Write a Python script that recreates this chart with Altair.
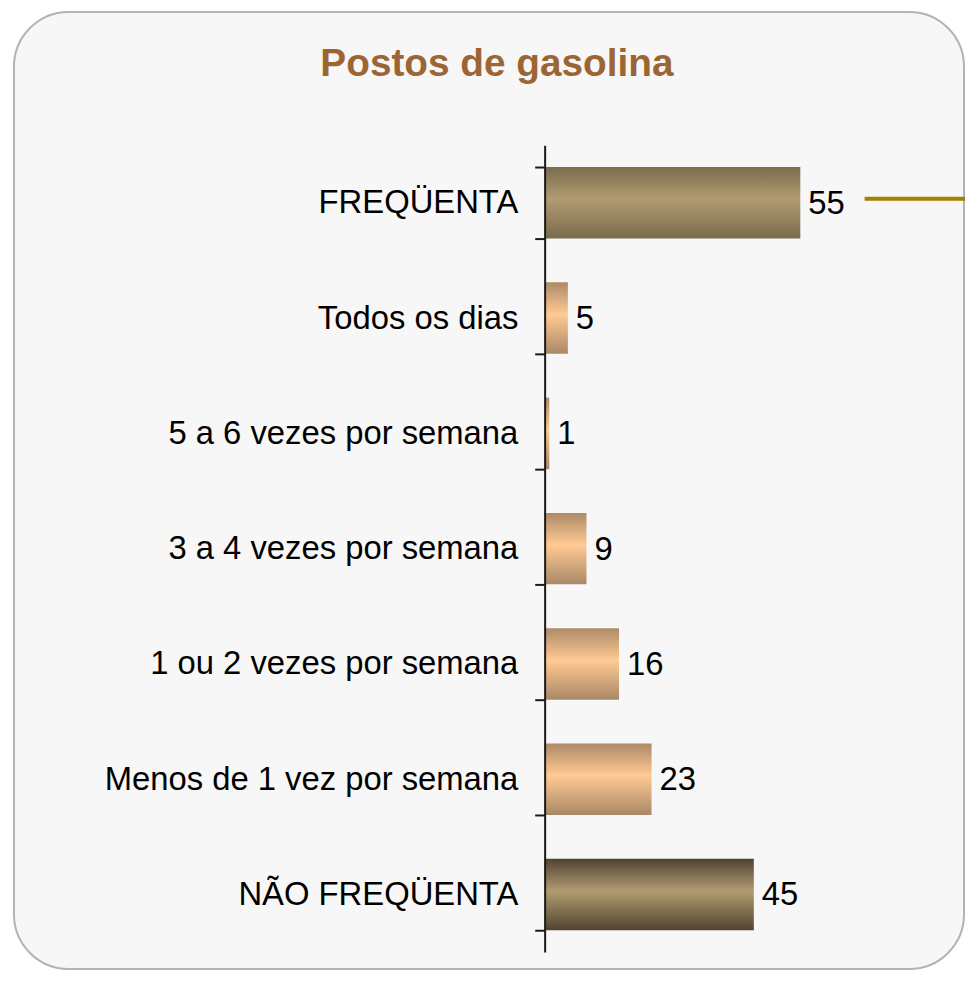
import altair as alt
import pandas as pd

TITLE = ["Postos de gasolina"]
CATEGORIES = [
    "FREQÜENTA",
    "Todos os dias",
    "5 a 6 vezes por semana",
    "3 a 4 vezes por semana",
    "1 ou 2 vezes por semana",
    "Menos de 1 vez por semana",
    "NÃO FREQÜENTA",
]
VALUES = [55, 5, 1, 9, 16, 23, 45]
GROUPS = ["top", "sub", "sub", "sub", "sub", "sub", "bottom"]

df = pd.DataFrame({"cat": CATEGORIES, "val": VALUES, "grp": GROUPS})
one = pd.DataFrame({"k": [0]})
title_df = pd.DataFrame({"t": TITLE})

FONT = "Liberation Sans"


def grad(edge_top, mid, edge_bottom):
    return alt.LinearGradient(
        gradient="linear",
        stops=[
            alt.GradientStop(color=edge_top, offset=0),
            alt.GradientStop(color=mid, offset=0.45),
            alt.GradientStop(color=edge_bottom, offset=1),
        ],
        x1=0, x2=0, y1=0, y2=1,
    )


y_enc = alt.Y(
    "cat:N",
    sort=CATEGORIES,
    scale=alt.Scale(paddingInner=0.38, paddingOuter=0.19),
    axis=alt.Axis(
        title=None,
        tickBand="extent",
        tickSize=10,
        tickColor="#1a1a1a",
        tickWidth=2,
        domainColor="#1a1a1a",
        domainWidth=2,
        labelFont=FONT,
        labelFontSize=33,
        labelColor="#000000",
        labelPadding=17,
        labelLimit=600,
        grid=False,
        zindex=2,
    ),
)
x_enc = alt.X("val:Q", scale=alt.Scale(domain=[0, 90], nice=False), axis=None)

base = alt.Chart(df).encode(y=y_enc, x=x_enc)

panel = alt.Chart(one).mark_rect(
    fill="#f7f7f7", stroke="#b3b3b3", strokeWidth=2, cornerRadius=55
).encode(
    x=alt.value(-534), x2=alt.value(422), y=alt.value(-134), y2=alt.value(829)
)

title = alt.Chart(title_df).mark_text(
    align="center", baseline="alphabetic", fontSize=39, font=FONT,
    fontWeight="bold", color="#9b6633"
).encode(text="t:N", x=alt.value(-48), y=alt.value(-70))

bars_top = base.transform_filter(alt.datum.grp == "top").mark_bar(
    color=grad("#7b6c4f", "#b29b71", "#796a4d")
)
bars_bottom = base.transform_filter(alt.datum.grp == "bottom").mark_bar(
    color=grad("#4f4330", "#b29b71", "#51452f")
)
bars_sub = base.transform_filter(alt.datum.grp == "sub").mark_bar(
    color=grad("#ad8a67", "#ffca94", "#a98866")
)

labels = base.mark_text(
    align="left", baseline="middle", dx=8, dy=1, fontSize=33, font=FONT, color="#000000"
).encode(text="val:Q")

connector = alt.Chart(one).mark_rule(color="#a58000", strokeWidth=4).encode(
    x=alt.value(322), x2=alt.value(425), y=alt.value(54)
)

chart = (
    alt.layer(panel, title, bars_top, bars_bottom, bars_sub, labels, connector)
    .properties(
        width=421,
        height=812,
        padding={"left": 540, "top": 135, "right": 2, "bottom": 19},
        autosize=alt.AutoSizeParams(type="none"),
        background="#ffffff",
    )
    .configure_view(stroke=None)
)

chart.save("out.html", embed_options={"renderer": "svg", "actions": False})
